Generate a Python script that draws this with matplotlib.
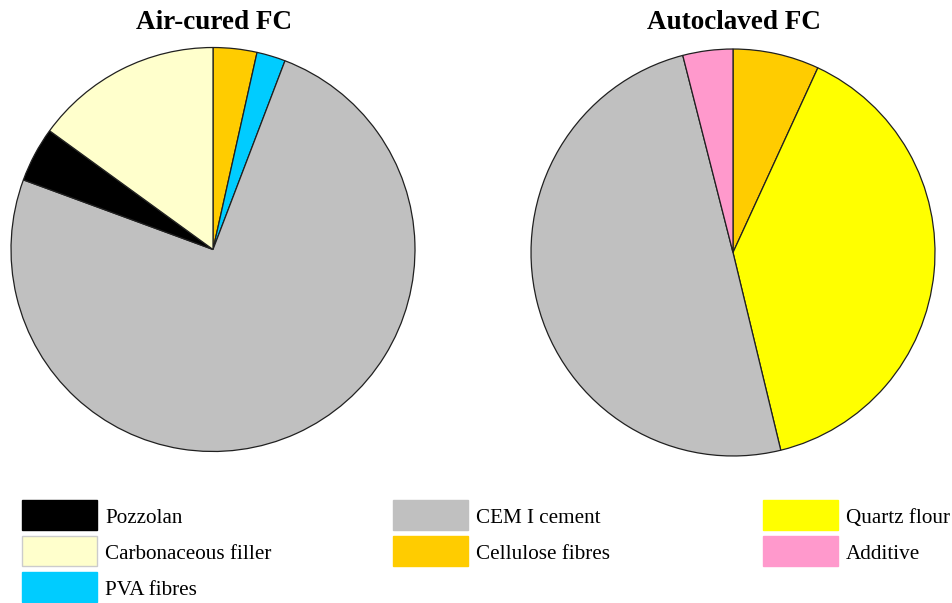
import matplotlib
matplotlib.use("Agg")
import matplotlib.pyplot as plt
from matplotlib.patches import Rectangle

# Mix composition (% of dry mass), read clockwise from 12 o'clock
air_labels = ["Cellulose fibres", "PVA fibres", "CEM I cement", "Pozzolan", "Carbonaceous filler"]
air_values = [3.5, 2.3, 74.8, 4.4, 15.0]

auto_labels = ["Cellulose fibres", "Quartz flour", "CEM I cement", "Additive"]
auto_values = [6.9, 39.3, 49.8, 4.0]

titles = ["Air-cured FC", "Autoclaved FC"]

colors = {
    "Pozzolan": "#000000",
    "Carbonaceous filler": "#FFFFCC",
    "PVA fibres": "#00CCFF",
    "CEM I cement": "#C0C0C0",
    "Cellulose fibres": "#FFCC00",
    "Quartz flour": "#FFFF00",
    "Additive": "#FF99CC",
}

legend_columns = [
    ["Pozzolan", "Carbonaceous filler", "PVA fibres"],
    ["CEM I cement", "Cellulose fibres"],
    ["Quartz flour", "Additive"],
]

W, H = 953, 603
fig = plt.figure(figsize=(W / 100, H / 100), dpi=100)
fig.patch.set_facecolor("white")
serif = ["Liberation Serif", "DejaVu Serif"]


def fx(x):
    return x / W


def fy(y):
    return 1 - y / H


def px_axes(cx, cy, rx, ry):
    return fig.add_axes([(cx - rx) / W, (H - cy - ry) / H, 2 * rx / W, 2 * ry / H])


pies = [
    (213, 249.5, 203, 203, air_labels, air_values),
    (733, 252.5, 203, 204.5, auto_labels, auto_values),
]
for (cx, cy, rx, ry, labels, values), title in zip(pies, titles):
    ax = px_axes(cx, cy, rx, ry)
    ax.pie(values, colors=[colors[l] for l in labels], startangle=90,
           counterclock=False, radius=1.0,
           wedgeprops=dict(edgecolor="#202020", linewidth=0.9))
    ax.set_xlim(-1.005, 1.005)
    ax.set_ylim(-1.005, 1.005)
    ax.set_aspect("auto")
    ax.axis("off")
    fig.text(fx(cx + 1), fy(29), title, ha="center", va="baseline",
             fontsize=19.5, fontweight="bold", family=serif)

# Legend: three columns of colour boxes with labels
col_x = [22, 393, 763]
row_top = [500, 536, 572]
box_w, box_h = 75, 30
for x0, names in zip(col_x, legend_columns):
    for y0, name in zip(row_top, names):
        edge = "#CCCCCC" if name == "Carbonaceous filler" else colors[name]
        fig.add_artist(Rectangle((fx(x0), fy(y0 + box_h)), box_w / W, box_h / H,
                                 transform=fig.transFigure, facecolor=colors[name],
                                 edgecolor=edge, linewidth=1.0))
        fig.text(fx(x0 + box_w + 8), fy(y0 + 23), name, ha="left", va="baseline",
                 fontsize=15.2, family=serif)

fig.savefig("out.png", dpi=100, facecolor="white")
